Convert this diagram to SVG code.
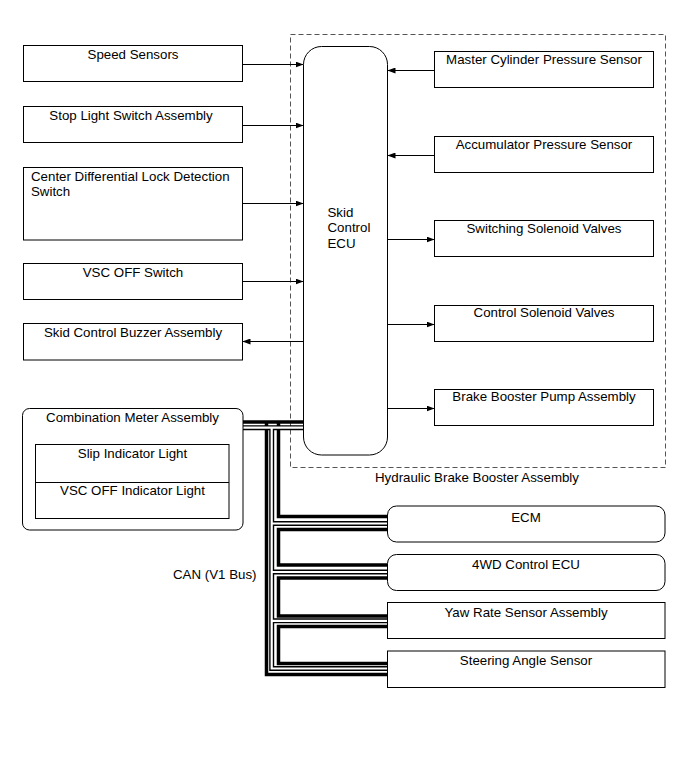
<svg xmlns="http://www.w3.org/2000/svg" width="691" height="757" viewBox="0 0 691 757">
<style>
  .box { fill: #fff; stroke: #000; stroke-width: 1; }
  .t { font-family: "Liberation Sans", Arial, sans-serif; font-size: 13.3px; fill: #000; }
  .c { text-anchor: middle; }
  .arr { stroke: #000; stroke-width: 1; fill: none; marker-end: url(#ah); }
  .thick { stroke: #000; stroke-width: 3.5; fill: none; stroke-linejoin: miter; }
  .hollowB { stroke: #000; stroke-width: 5; fill: none; stroke-linejoin: miter; }
  .hollowW { stroke: #fff; stroke-width: 2.2; fill: none; stroke-linejoin: miter; }
</style>
<defs>
  <marker id="ah" markerUnits="userSpaceOnUse" markerWidth="8" markerHeight="6" refX="8" refY="3" orient="auto">
    <path d="M0,0 L8,3 L0,6 z" fill="#000"/>
  </marker>
</defs>
<rect width="691" height="757" fill="#fff"/>

<g id="hydraulic-brake-booster-assembly">
  <rect x="290.5" y="34.5" width="375" height="433" fill="none" stroke="#555" stroke-width="1" stroke-dasharray="5,3"/>
  <text class="t" x="375" y="481.7">Hydraulic Brake Booster Assembly</text>
</g>

<g id="connectors">
  <line class="arr" x1="242.5" y1="64.5" x2="303.5" y2="64.5"/>
  <line class="arr" x1="242.5" y1="125.5" x2="303.5" y2="125.5"/>
  <line class="arr" x1="242.5" y1="203.5" x2="303.5" y2="203.5"/>
  <line class="arr" x1="242.5" y1="281.5" x2="303.5" y2="281.5"/>
  <line class="arr" x1="303.5" y1="341.5" x2="242.5" y2="341.5"/>
  <line class="arr" x1="434.5" y1="70.5" x2="387.5" y2="70.5"/>
  <line class="arr" x1="434.5" y1="155.5" x2="387.5" y2="155.5"/>
  <line class="arr" x1="387.5" y1="239.5" x2="434.5" y2="239.5"/>
  <line class="arr" x1="387.5" y1="324.5" x2="434.5" y2="324.5"/>
  <line class="arr" x1="387.5" y1="408.5" x2="434.5" y2="408.5"/>
  <g id="can-bus">
    <path class="thick" d="M242,422 H304 M266.5,422 V674.5 H388"/>
    <path class="thick" d="M278.5,422 V516.5 H388"/>
    <path class="thick" d="M388,529.5 H278.5 V565 H388"/>
    <path class="thick" d="M388,578 H278.5 V616 H388"/>
    <path class="thick" d="M388,626.5 H278.5 V663.5 H388"/>
    <path class="hollowB" d="M242,427.7 H304 M271.7,427.7 V668.5 H388 M271.7,523.5 H388 M271.7,572 H388 M271.7,620.8 H388"/>
    <path class="hollowW" d="M242,427.7 H304 M271.7,427.7 V668.5 H388 M271.7,523.5 H388 M271.7,572 H388 M271.7,620.8 H388"/>
  </g>
  <text class="t" x="173" y="578.5">CAN (V1 Bus)</text>
</g>

<g id="speed-sensors">
  <rect class="box" x="23.5" y="45.5" width="219" height="36"/>
  <text class="t c" x="133" y="59">Speed Sensors</text>
</g>
<g id="stop-light-switch-assembly">
  <rect class="box" x="23.5" y="106.5" width="219" height="36"/>
  <text class="t c" x="131" y="120">Stop Light Switch Assembly</text>
</g>
<g id="center-differential-lock-detection-switch">
  <rect class="box" x="23.5" y="167.5" width="219" height="72.5"/>
  <text class="t" x="31" y="180.7">Center Differential Lock Detection</text>
  <text class="t" x="31" y="196">Switch</text>
</g>
<g id="vsc-off-switch">
  <rect class="box" x="23.5" y="263.5" width="219" height="36"/>
  <text class="t c" x="133" y="276.7">VSC OFF Switch</text>
</g>
<g id="skid-control-buzzer-assembly">
  <rect class="box" x="23.5" y="323.5" width="219" height="36.5"/>
  <text class="t c" x="133" y="336.7">Skid Control Buzzer Assembly</text>
</g>
<g id="combination-meter-assembly">
  <rect class="box" x="22.5" y="408.5" width="220.5" height="121.5" rx="7"/>
  <text class="t c" x="132.5" y="421.7">Combination Meter Assembly</text>
  <rect class="box" x="35.5" y="444.5" width="193.5" height="74"/>
  <line x1="35.5" y1="482.5" x2="229" y2="482.5" stroke="#000" stroke-width="1"/>
  <text class="t c" x="132.5" y="458.3">Slip Indicator Light</text>
  <text class="t c" x="132.5" y="495">VSC OFF Indicator Light</text>
</g>

<g id="skid-control-ecu">
  <rect class="box" x="303.5" y="46.5" width="84" height="408.5" rx="18"/>
  <text class="t" x="327.5" y="216.7">Skid</text>
  <text class="t" x="327.5" y="232.3">Control</text>
  <text class="t" x="327.5" y="248.3">ECU</text>
</g>

<g id="master-cylinder-pressure-sensor">
  <rect class="box" x="434.5" y="51.5" width="219" height="36"/>
  <text class="t c" x="544" y="64">Master Cylinder Pressure Sensor</text>
</g>
<g id="accumulator-pressure-sensor">
  <rect class="box" x="434.5" y="136.5" width="219" height="36"/>
  <text class="t c" x="544" y="149">Accumulator Pressure Sensor</text>
</g>
<g id="switching-solenoid-valves">
  <rect class="box" x="434.5" y="220.5" width="219" height="36"/>
  <text class="t c" x="544" y="232.7">Switching Solenoid Valves</text>
</g>
<g id="control-solenoid-valves">
  <rect class="box" x="434.5" y="305.5" width="219" height="36"/>
  <text class="t c" x="544" y="316.7">Control Solenoid Valves</text>
</g>
<g id="brake-booster-pump-assembly">
  <rect class="box" x="434.5" y="389.5" width="219" height="36"/>
  <text class="t c" x="544" y="400.7">Brake Booster Pump Assembly</text>
</g>

<g id="ecm">
  <rect class="box" x="387.5" y="506" width="277.5" height="36" rx="9"/>
  <text class="t c" x="526" y="522">ECM</text>
</g>
<g id="4wd-control-ecu">
  <rect class="box" x="387.5" y="554.5" width="277.5" height="36" rx="9"/>
  <text class="t c" x="526" y="569">4WD Control ECU</text>
</g>
<g id="yaw-rate-sensor-assembly">
  <rect class="box" x="387.5" y="602.5" width="277.5" height="36"/>
  <text class="t c" x="526" y="617">Yaw Rate Sensor Assembly</text>
</g>
<g id="steering-angle-sensor">
  <rect class="box" x="387.5" y="651" width="277.5" height="36.5"/>
  <text class="t c" x="526" y="664.5">Steering Angle Sensor</text>
</g>
</svg>
